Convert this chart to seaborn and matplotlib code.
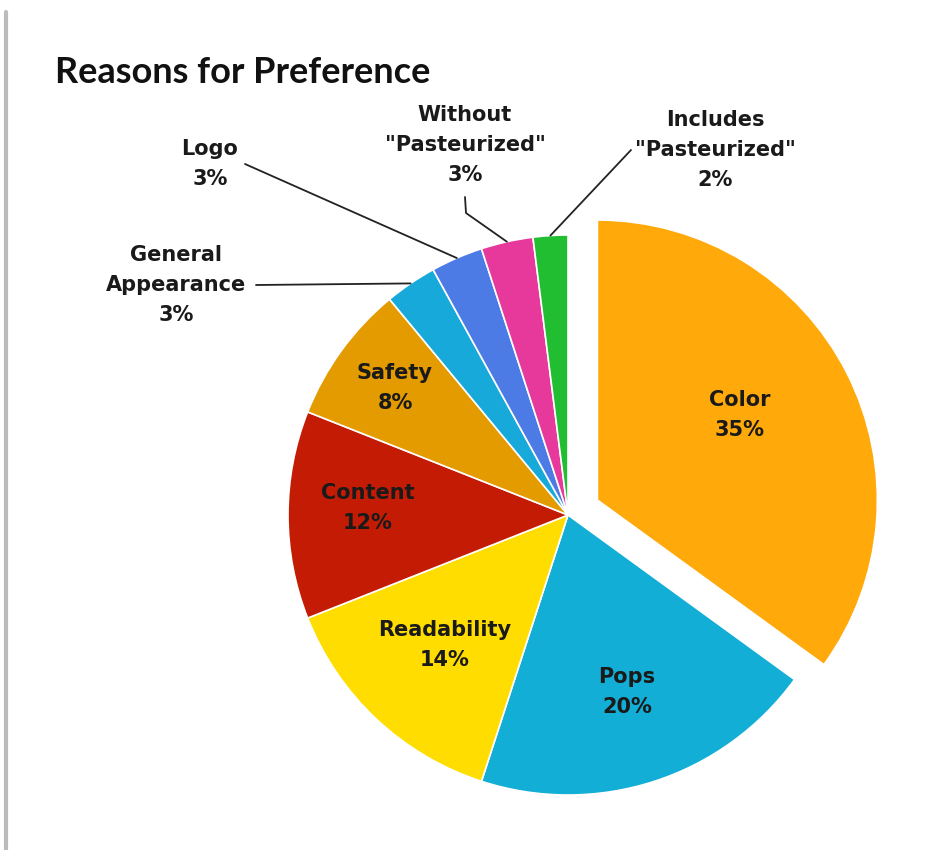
import numpy as np
import matplotlib
matplotlib.use("Agg")
import matplotlib.pyplot as plt
import seaborn as sns

sns.set_theme(style="white")
plt.rcParams['font.family'] = ['DejaVu Sans']

# donnees
categories = ['Color', 'Pops', 'Readability', 'Content', 'Safety',
              'General\nAppearance', 'Logo', 'Without\n"Pasteurized"',
              'Includes\n"Pasteurized"']
percents = [35, 20, 14, 12, 8, 3, 3, 3, 2]
colors = ['#FFA90A', '#12AED6', '#FFDD00', '#C41C04', '#E39B00',
          '#17A9D9', '#4C7BE6', '#E6399B', '#22BE32']

# mise en page (pixels, origine en haut a gauche)
W, H = 928, 850
cx, cy, R = 568, 515, 280
inside = {0: (740, 415), 1: (627, 692), 2: (445, 645), 3: (368, 508), 4: (395, 388)}
outside = {5: (176, 285), 6: (210, 164), 7: (465, 145), 8: (715, 150)}

fig = plt.figure(figsize=(W / 100, H / 100), dpi=100)
ax = fig.add_axes([0, 0, 1, 1])
ax.axis('off')

# explode est en unites de donnees (pixels ici)
explode = [33] + [0] * (len(percents) - 1)
wedges, _ = ax.pie(percents, colors=colors, startangle=90, counterclock=False,
                   center=(cx, H - cy), radius=R, explode=explode,
                   wedgeprops=dict(edgecolor='white', linewidth=1.2))
ax.set_xlim(0, W)
ax.set_ylim(0, H)
ax.set_aspect('equal')

lab_kw = dict(ha='center', va='center', fontsize=15, fontweight='bold',
              color='#1a1a1a', linespacing=1.6)

# etiquettes interieures
for i, (x, y) in inside.items():
    ax.text(x, H - y, f"{categories[i]}\n{percents[i]}%", **lab_kw)

# etiquettes exterieures avec lignes de rappel
cum = np.cumsum([0] + percents)
for i, (x, y) in outside.items():
    mid = (cum[i] + cum[i + 1]) / 2 / 100.0
    ang = np.deg2rad(90 - 360 * mid)
    px, py = cx + R * np.cos(ang), (H - cy) + R * np.sin(ang)
    ax.text(x, H - y, f"{categories[i]}\n{percents[i]}%", **lab_kw)
    if i == 5:
        start = (x + 80, H - y)
    elif i == 6:
        start = (x + 35, H - y)
    elif i == 7:
        start = (x, H - y - 52)
    else:
        start = (x - 84, H - y)
    if i == 7:
        ax.plot([start[0], start[0] + 1, px], [start[1], start[1] - 16, py],
                color='#222222', lw=1.3)
    else:
        ax.plot([start[0], px], [start[1], py], color='#222222', lw=1.3)

ax.text(55, H - 72, 'Reasons for Preference', ha='left', va='center',
        fontsize=26, fontweight='bold', color='#111111', family='Lato')

# bord gris a gauche
fig.add_artist(plt.Line2D([6 / W, 6 / W], [0, 1 - 12 / H], color='#bbbbbb', lw=3))

fig.savefig('out.png', dpi=100, facecolor='white')
